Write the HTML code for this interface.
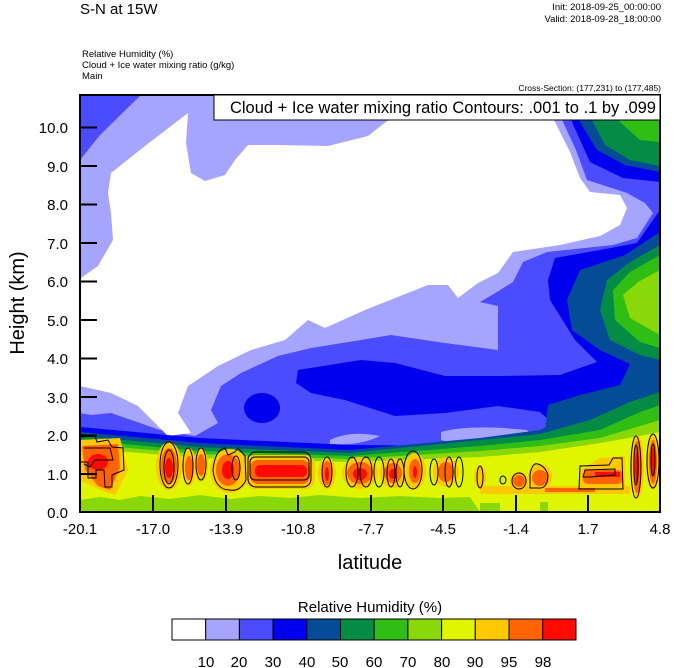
<!DOCTYPE html>
<html><head><meta charset="utf-8"><style>
html,body{margin:0;padding:0;background:#fff;}
svg{display:block;font-family:"Liberation Sans",sans-serif;}
</style></head><body>
<svg width="674" height="668" viewBox="0 0 674 668" xmlns="http://www.w3.org/2000/svg">
<defs><clipPath id="pc"><rect x="80" y="95" width="580" height="417"/></clipPath></defs>
<text x="80" y="14" font-size="15">S-N at 15W</text>
<text x="661" y="10" font-size="9.5" text-anchor="end">Init: 2018-09-25_00:00:00</text>
<text x="661" y="22" font-size="9.5" text-anchor="end">Valid: 2018-09-28_18:00:00</text>
<text x="82" y="57" font-size="9.5">Relative Humidity   (%)</text>
<text x="82" y="68" font-size="9.5">Cloud + Ice water mixing ratio   (g/kg)</text>
<text x="82" y="79" font-size="9.5">Main</text>
<text x="661" y="91" font-size="8.5" text-anchor="end">Cross-Section: (177,231) to (177,485)</text>
<g clip-path="url(#pc)">
<rect x="80" y="95" width="580" height="417" fill="#4b4bff"/>
<!-- lavender -->
<path fill="#a5a5ff" d="M141,95 L563,95 L563,122 L576,150 L587,180 L627,193 L645,203 L653,213 L637,238 L613,245 L547,252 L523,262 L513,282 L497,292 L480,302 L498,306 L498,350 L445,343 L411,338 L391,335 L361,340 L311,348 L278,356 L241,373 L221,386 L211,410 L218,423 L195,436 L160,430 L111,413 L91,415 L80,413 L80,160 L100,135 Z"/>
<path fill="#a5a5ff" d="M441,432 Q470,424 527,430 Q540,440 510,447 Q470,448 441,440 Z"/>
<path fill="#a5a5ff" d="M330,440 Q350,430 380,436 Q360,446 330,444 Z"/>
<!-- white -->
<path fill="#fff" d="M188,113 L145,146 L111,173 L108,193 L111,213 L113,240 L98,266 L81,278 L80,386 L111,393 L138,406 L158,426 L168,436 L191,433 L178,413 L188,386 L218,366 L251,350 L285,340 L308,320 L325,328 L365,310 L428,285 L448,285 L458,298 L478,283 L498,273 L513,252 L560,245 L600,236 L620,225 L627,208 L620,195 L590,192 L580,178 L570,152 L553,118 L391,118 L368,136 L328,146 L278,145 L248,145 L235,160 L225,175 L205,181 L191,173 L186,143 Z"/>
<!-- dark blue -->
<ellipse cx="262" cy="408" rx="18" ry="15" fill="#0000ee"/>
<path fill="#0000ee" d="M572,95 L572,122 L590,162 L623,178 L660,182 L660,95 Z"/>
<path fill="#0000ee" d="M660,210 L637,243 L600,250 L555,258 L548,280 L550,300 L575,340 L597,362 L560,375 L498,376 L445,376 L395,363 L361,360 L298,370 L296,383 L311,393 L345,400 L395,416 L445,413 L498,406 L540,412 L560,430 L660,430 Z"/>
<!-- navy -->
<path fill="#044c96" d="M580,95 L580,122 L597,150 L625,165 L660,172 L660,95 Z"/>
<path fill="#044c96" d="M660,232 L625,255 L580,270 L567,300 L572,330 L600,350 L630,364 L620,385 L580,395 L548,405 L545,430 L660,430 Z"/>
<!-- greens -->
<path fill="#048c44" d="M593,95 L593,122 L605,145 L630,160 L660,166 L660,95 Z"/>
<path fill="#048c44" d="M660,245 L630,262 L607,280 L600,310 L610,340 L640,355 L660,360 Z"/>
<path fill="#30be14" d="M615,95 L620,122 L640,140 L660,142 L660,95 Z"/>
<path fill="#30be14" d="M660,255 L630,272 L613,290 L615,320 L640,342 L660,348 Z"/>
<path fill="#8ad80a" d="M660,270 L638,282 L623,295 L630,318 L660,335 Z"/>
<!-- bottom bands -->
<path fill="#0000ee" d="M80,427 L200,438 L350,445 L480,446 L550,436 L600,418 L630,400 L660,385 L660,512 L80,512 Z"/>
<path fill="#044c96" d="M80,432 L200,443 L350,450 L480,438 L540,430 L580,412 L620,395 L660,380 L660,512 L80,512 Z"/>
<path fill="#048c44" d="M80,436 L200,447 L350,453 L480,440 L540,434 L590,420 L630,402 L660,392 L660,512 L80,512 Z"/>
<path fill="#30be14" d="M80,440 L200,451 L350,456 L480,446 L540,440 L600,430 L640,412 L660,405 L660,512 L80,512 Z"/>
<path fill="#8ad80a" d="M80,444 L200,454 L350,459 L480,451 L540,446 L600,438 L640,426 L660,420 L660,512 L80,512 Z"/>
<path fill="#e0f500" d="M80,448 L200,458 L350,462 L480,457 L540,452 L600,443 L640,436 L660,432 L660,512 L80,512 Z"/>
<path fill="#8ad80a" d="M80,500 L100,497 L120,500 L140,496 L170,499 L200,495 L230,499 L260,496 L290,498 L320,495 L360,498 L400,496 L440,498 L470,497 L480,512 L80,512 Z"/>
<rect x="480" y="503" width="20" height="9" fill="#8ad80a"/><rect x="540" y="502" width="8" height="10" fill="#8ad80a"/>
<!-- orange blobs -->
<g fill="#ffc800">
<path d="M80,440 L120,438 L128,470 L115,495 L100,490 L80,480 Z"/>
<ellipse cx="169" cy="466" rx="13" ry="24"/><ellipse cx="189" cy="467" rx="7" ry="19"/><ellipse cx="201" cy="465" rx="7" ry="17"/>
<ellipse cx="230" cy="471" rx="20" ry="22"/><rect x="245" y="455" width="70" height="34" rx="10"/>
<ellipse cx="327" cy="473" rx="9" ry="16"/><ellipse cx="360" cy="473" rx="18" ry="16"/><ellipse cx="393" cy="473" rx="14" ry="15"/>
<ellipse cx="415" cy="471" rx="11" ry="18"/><ellipse cx="446" cy="472" rx="13" ry="15"/><ellipse cx="480" cy="477" rx="6" ry="11"/>
<ellipse cx="519" cy="481" rx="9" ry="9"/><ellipse cx="540" cy="477" rx="12" ry="13"/><path d="M580,470 L600,458 L625,456 L625,490 L580,490 Z"/>
<ellipse cx="637" cy="467" rx="7" ry="32"/><ellipse cx="653" cy="462" rx="7" ry="28"/>
<rect x="480" y="486" width="150" height="8"/>
</g>
<g fill="#ff6400">
<path d="M82,446 L118,444 L120,468 L110,490 L98,486 L85,470 Z"/>
<ellipse cx="169" cy="466" rx="8" ry="18"/><ellipse cx="189" cy="468" rx="4" ry="12"/><ellipse cx="201" cy="465" rx="4" ry="11"/>
<ellipse cx="228" cy="470" rx="12" ry="16"/><rect x="250" y="460" width="60" height="24" rx="8"/>
<ellipse cx="327" cy="473" rx="5" ry="12"/><ellipse cx="360" cy="473" rx="13" ry="11"/><ellipse cx="393" cy="473" rx="9" ry="10"/>
<ellipse cx="415" cy="471" rx="6" ry="12"/><ellipse cx="446" cy="472" rx="8" ry="10"/><ellipse cx="519" cy="481" rx="6" ry="6"/><ellipse cx="540" cy="478" rx="8" ry="8"/>
<rect x="583" y="470" width="40" height="14" rx="5"/><ellipse cx="637" cy="467" rx="4" ry="26"/><ellipse cx="653" cy="462" rx="4" ry="22"/>
<rect x="545" y="488" width="50" height="4"/>
</g>
<g fill="#ff0a00">
<ellipse cx="98" cy="462" rx="10" ry="8"/><ellipse cx="169" cy="468" rx="4" ry="10"/><ellipse cx="228" cy="470" rx="6" ry="9"/>
<rect x="255" y="465" width="52" height="12" rx="5"/><ellipse cx="327" cy="474" rx="2" ry="7"/><ellipse cx="360" cy="474" rx="7" ry="6"/>
<ellipse cx="393" cy="474" rx="4" ry="5"/><ellipse cx="415" cy="472" rx="2" ry="6"/><rect x="595" y="472" width="25" height="5"/>
<ellipse cx="637" cy="467" rx="2" ry="16"/><ellipse cx="653" cy="462" rx="2" ry="14"/>
</g>
<!-- contours -->
<g fill="none" stroke="#000" stroke-width="1">
<path d="M80,437 L95,436 L97,442 L108,440 L112,447 L123,448 L124,470 L112,475 L112,487 L105,487 L104,470 L96,470 L96,478 L88,478 L88,462 L80,462"/>
<path d="M84,448 L110,448 L113,460 L95,460 L90,467 L84,464"/>
<ellipse cx="169" cy="465" rx="9" ry="23"/><ellipse cx="169" cy="467" rx="5" ry="17"/>
<ellipse cx="188" cy="466" rx="5" ry="18"/><ellipse cx="201" cy="464" rx="5" ry="16"/>
<path d="M213,470 Q215,450 225,448 L228,455 L235,452 L238,448 L245,456 L246,480 Q240,492 230,490 Q215,490 213,470 Z"/>
<ellipse cx="236" cy="468" rx="4" ry="12"/>
<rect x="248" y="452" width="63" height="35" rx="8"/><rect x="250" y="457" width="59" height="23" rx="5"/>
<ellipse cx="327" cy="472" rx="5" ry="15"/><ellipse cx="352" cy="472" rx="6" ry="15"/><ellipse cx="366" cy="472" rx="6" ry="15"/>
<ellipse cx="379" cy="472" rx="5" ry="15"/><ellipse cx="391" cy="473" rx="4" ry="14"/><ellipse cx="400" cy="473" rx="4" ry="14"/>
<ellipse cx="413" cy="470" rx="9" ry="19"/><ellipse cx="434" cy="472" rx="4" ry="13"/><ellipse cx="449" cy="472" rx="4" ry="15"/>
<ellipse cx="459" cy="472" rx="4" ry="15"/><ellipse cx="480" cy="477" rx="3" ry="11"/><ellipse cx="503" cy="480" rx="3" ry="4"/>
<ellipse cx="519" cy="481" rx="7" ry="8"/><path d="M530,475 Q532,462 538,464 Q545,466 548,475 Q548,489 538,488 L530,488 Z"/>
<path d="M579,489 L580,466 L609,465 L613,458 L622,458 L623,489 Z"/><path d="M583,477 L585,470 L615,469 L615,475 L590,477 Z"/>
<ellipse cx="636" cy="467" rx="5" ry="31"/><ellipse cx="636" cy="465" rx="2" ry="20"/><ellipse cx="653" cy="461" rx="6" ry="27"/><ellipse cx="653" cy="460" rx="2" ry="16"/>
</g>
<!-- ticks -->
<g stroke="#000" stroke-width="2">
<path d="M80,127.5h17M80,166h17M80,204.5h17M80,243h17M80,281.5h17M80,320h17M80,358.5h17M80,397h17M80,435.5h17M80,474h17"/>
<path d="M153,512v-17M226,512v-17M298,512v-17M371,512v-17M443,512v-17M516,512v-17M588,512v-17"/>
</g>
</g>
<rect x="80" y="95" width="580" height="417" fill="none" stroke="#000" stroke-width="2"/>
<rect x="214" y="95" width="446" height="25" fill="#fff" stroke="#000" stroke-width="1"/>
<text x="656" y="113" font-size="16.5" text-anchor="end">Cloud + Ice water mixing ratio Contours: .001 to .1 by .099</text>
<g font-size="15" text-anchor="end">
<text x="68" y="133">10.0</text><text x="68" y="172">9.0</text><text x="68" y="210">8.0</text><text x="68" y="249">7.0</text><text x="68" y="287">6.0</text><text x="68" y="326">5.0</text><text x="68" y="364">4.0</text><text x="68" y="403">3.0</text><text x="68" y="441">2.0</text><text x="68" y="480">1.0</text><text x="68" y="518">0.0</text>
</g>
<g font-size="15" text-anchor="middle">
<text x="80" y="534">-20.1</text><text x="153" y="534">-17.0</text><text x="226" y="534">-13.9</text><text x="298" y="534">-10.8</text><text x="371" y="534">-7.7</text><text x="443" y="534">-4.5</text><text x="516" y="534">-1.4</text><text x="588" y="534">1.7</text><text x="660" y="534">4.8</text>
</g>
<text x="370" y="569" font-size="20" text-anchor="middle">latitude</text>
<text transform="translate(24,303) rotate(-90)" font-size="20" text-anchor="middle">Height (km)</text>
<text x="370" y="612" font-size="15" text-anchor="middle">Relative Humidity  (%)</text>
<g stroke="#000" stroke-width="1">
<rect x="172" y="619" width="33.7" height="21" fill="#fff"/><rect x="205.7" y="619" width="33.7" height="21" fill="#a5a5ff"/>
<rect x="239.4" y="619" width="33.7" height="21" fill="#4b4bff"/><rect x="273.1" y="619" width="33.7" height="21" fill="#0000ee"/>
<rect x="306.8" y="619" width="33.7" height="21" fill="#044c96"/><rect x="340.5" y="619" width="33.7" height="21" fill="#048c44"/>
<rect x="374.2" y="619" width="33.7" height="21" fill="#30be14"/><rect x="407.9" y="619" width="33.7" height="21" fill="#8ad80a"/>
<rect x="441.6" y="619" width="33.7" height="21" fill="#e0f500"/><rect x="475.3" y="619" width="33.7" height="21" fill="#ffc800"/>
<rect x="509" y="619" width="33.7" height="21" fill="#ff6400"/><rect x="542.7" y="619" width="33.3" height="21" fill="#ff0a00"/>
</g>
<g font-size="15" text-anchor="middle">
<text x="206" y="667">10</text><text x="239" y="667">20</text><text x="273" y="667">30</text><text x="307" y="667">40</text><text x="340" y="667">50</text><text x="374" y="667">60</text><text x="408" y="667">70</text><text x="442" y="667">80</text><text x="475" y="667">90</text><text x="509" y="667">95</text><text x="543" y="667">98</text>
</g>
</svg>
</body></html>
